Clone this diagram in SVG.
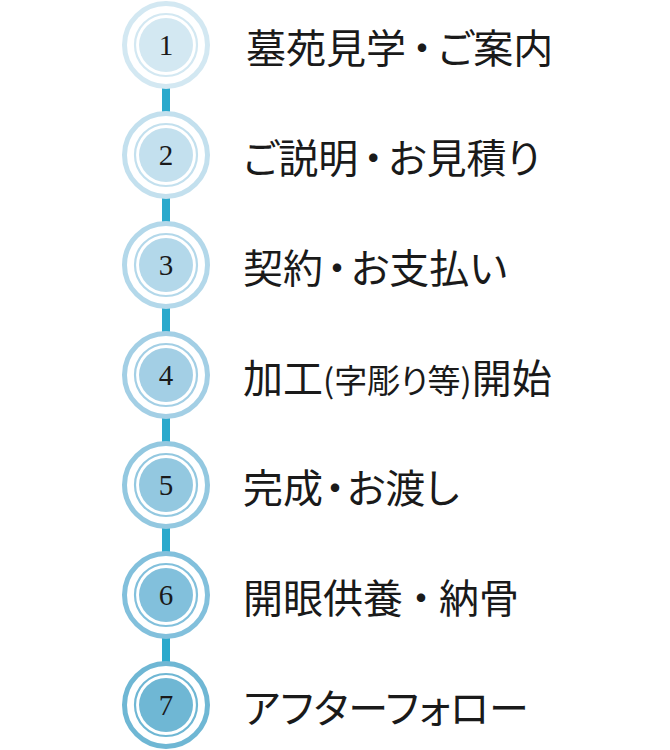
<svg xmlns="http://www.w3.org/2000/svg" width="670" height="750" viewBox="0 0 670 750">
<style>
.outer{fill:none;stroke-width:5}
.inner{fill:none;stroke-width:2.2}
.num{font-family:"Liberation Serif","Times New Roman",serif;font-size:29px;fill:#1a1a1a;text-anchor:middle}
.lbl{font-family:"Noto Sans CJK JP","Noto Sans CJK SC",sans-serif;font-size:40px;fill:#1a1a1a;font-feature-settings:"palt" 1}
.conn{fill:#2aa9cc}
</style>
<rect width="670" height="750" fill="#fff"/>
<g id="connectors">
<rect class="conn" x="162" y="87" width="8" height="26"/>
<rect class="conn" x="162" y="197" width="8" height="26"/>
<rect class="conn" x="162" y="307" width="8" height="26"/>
<rect class="conn" x="162" y="417" width="8" height="26"/>
<rect class="conn" x="162" y="527" width="8" height="26"/>
<rect class="conn" x="162" y="637" width="8" height="26"/>
</g>
<g id="node1">
<circle class="outer" cx="166" cy="45" r="41.5" stroke="#d3e8f2"/>
<circle class="inner" cx="166" cy="45" r="31" stroke="#d3e8f2"/>
<circle cx="166" cy="45" r="27" fill="#d3e8f2"/>
<text class="num" x="166" y="55">1</text>
<text class="lbl" x="246" y="63">墓苑見学<tspan dx="6">・</tspan><tspan dx="6">ご案内</tspan></text>
</g>
<g id="node2">
<circle class="outer" cx="166" cy="155" r="41.5" stroke="#c3e0ee"/>
<circle class="inner" cx="166" cy="155" r="31" stroke="#c3e0ee"/>
<circle cx="166" cy="155" r="27" fill="#c3e0ee"/>
<text class="num" x="166" y="165">2</text>
<text class="lbl" x="243" y="173">ご説明<tspan dx="5">・</tspan><tspan dx="5">お見積り</tspan></text>
</g>
<g id="node3">
<circle class="outer" cx="166" cy="265" r="41.5" stroke="#b3d8ea"/>
<circle class="inner" cx="166" cy="265" r="31" stroke="#b3d8ea"/>
<circle cx="166" cy="265" r="27" fill="#b3d8ea"/>
<text class="num" x="166" y="275">3</text>
<text class="lbl" x="243" y="283">契約<tspan dx="4">・</tspan><tspan dx="4">お支払い</tspan></text>
</g>
<g id="node4">
<circle class="outer" cx="166" cy="375" r="41.5" stroke="#a3cfe5"/>
<circle class="inner" cx="166" cy="375" r="31" stroke="#a3cfe5"/>
<circle cx="166" cy="375" r="27" fill="#a3cfe5"/>
<text class="num" x="166" y="385">4</text>
<text class="lbl" x="243" y="393">加工<tspan font-size="33">(字彫り等)</tspan>開始</text>
</g>
<g id="node5">
<circle class="outer" cx="166" cy="485" r="41.5" stroke="#93c8e0"/>
<circle class="inner" cx="166" cy="485" r="31" stroke="#93c8e0"/>
<circle cx="166" cy="485" r="27" fill="#93c8e0"/>
<text class="num" x="166" y="495">5</text>
<text class="lbl" x="243" y="503">完成<tspan dx="2">・</tspan><tspan dx="2">お渡し</tspan></text>
</g>
<g id="node6">
<circle class="outer" cx="166" cy="595" r="41.5" stroke="#82c0dc"/>
<circle class="inner" cx="166" cy="595" r="31" stroke="#82c0dc"/>
<circle cx="166" cy="595" r="27" fill="#82c0dc"/>
<text class="num" x="166" y="605">6</text>
<text class="lbl" x="243" y="613">開眼供養<tspan dx="8">・</tspan><tspan dx="8">納骨</tspan></text>
</g>
<g id="node7">
<circle class="outer" cx="166" cy="705" r="41.5" stroke="#6fb7d4"/>
<circle class="inner" cx="166" cy="705" r="31" stroke="#6fb7d4"/>
<circle cx="166" cy="705" r="27" fill="#6fb7d4"/>
<text class="num" x="166" y="715">7</text>
<text class="lbl" x="243" y="723">アフターフォロー</text>
</g>
</svg>
